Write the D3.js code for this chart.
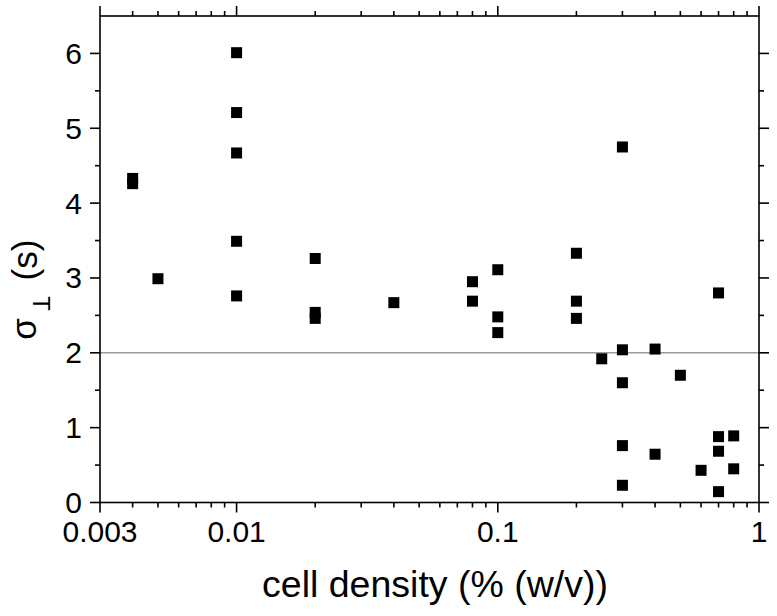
<!DOCTYPE html>
<html>
<head>
<meta charset="utf-8">
<script src="https://cdn.jsdelivr.net/npm/d3@7"></script>
<style>
  html, body { margin: 0; padding: 0; background: #fff; }
  svg { display: block; font-family: "Liberation Sans", Arial, sans-serif; }
</style>
</head>
<body>
<svg id="chart" width="777" height="616"></svg>
<script>
// ---- data ----
const density = [0.004, 0.004, 0.005,
  0.01, 0.01, 0.01, 0.01, 0.01,
  0.02, 0.02, 0.02,
  0.04,
  0.08, 0.08,
  0.1, 0.1, 0.1,
  0.2, 0.2, 0.2,
  0.25,
  0.3, 0.3, 0.3, 0.3, 0.3,
  0.4, 0.4,
  0.5,
  0.6,
  0.7, 0.7, 0.7, 0.7,
  0.8, 0.8];
const sigmaT = [4.33, 4.26, 2.99,
  6.01, 5.21, 4.67, 3.49, 2.76,
  3.26, 2.54, 2.46,
  2.67,
  2.95, 2.69,
  3.11, 2.48, 2.27,
  3.33, 2.69, 2.46,
  1.92,
  4.75, 2.04, 1.60, 0.76, 0.23,
  2.05, 0.645,
  1.70,
  0.43,
  2.80, 0.88, 0.685, 0.145,
  0.89, 0.45];
const xTickLabels = ["0.003", "0.01", "0.1", "1"];
const xTickValues = [0.003, 0.01, 0.1, 1];
const yTickValues = [0, 1, 2, 3, 4, 5, 6];
const refLine = 2;

// ---- layout ----
const L = 100, R = 759, T = 16, B = 502.5;
const svg = d3.select("#chart");
const x = d3.scaleLog().domain([0.003, 1]).range([L, R]);
const y = d3.scaleLinear().domain([0, 6.5]).range([B, T]);

const minorX = [];
[0.001, 0.01, 0.1].forEach(d => { for (let k = 1; k <= 9; k++) { const v = d * k; if (v > 0.003 + 1e-9 && v < 1 - 1e-9 && !xTickValues.some(t => Math.abs(t - v) < 1e-9)) minorX.push(v); } });
const minorY = d3.range(0.5, 6.5, 1);

const stroke = "#000", sw = 1.6;

// reference line
svg.append("line")
  .attr("x1", L).attr("x2", R)
  .attr("y1", y(refLine)).attr("y2", y(refLine))
  .attr("stroke", "#9a9a9a").attr("stroke-width", 1.4);

// frame
svg.append("rect").attr("x", L).attr("y", T).attr("width", R - L).attr("height", B - T)
  .attr("fill", "none").attr("stroke", stroke).attr("stroke-width", sw);

function ticks(g, vals, len, pos) {
  g.selectAll(null).data(vals).enter().append("line")
    .attr("stroke", stroke).attr("stroke-width", sw)
    .each(function(v) {
      const s = d3.select(this);
      if (pos === "bottom") s.attr("x1", x(v)).attr("x2", x(v)).attr("y1", B).attr("y2", B + len);
      if (pos === "top") s.attr("x1", x(v)).attr("x2", x(v)).attr("y1", T).attr("y2", T - len);
      if (pos === "left") s.attr("y1", y(v)).attr("y2", y(v)).attr("x1", L).attr("x2", L - len);
      if (pos === "right") s.attr("y1", y(v)).attr("y2", y(v)).attr("x1", R).attr("x2", R + len);
    });
}
const tg = svg.append("g");
ticks(tg, xTickValues, 10, "bottom"); ticks(tg, minorX, 5, "bottom");
ticks(tg, xTickValues, 10, "top"); ticks(tg, minorX, 5, "top");
ticks(tg, yTickValues, 10, "left"); ticks(tg, minorY, 5, "left");
ticks(tg, yTickValues, 10, "right"); ticks(tg, minorY, 5, "right");

// tick labels
svg.append("g").selectAll("text").data(xTickValues).enter().append("text")
  .attr("x", d => x(d)).attr("y", 542)
  .attr("text-anchor", "middle").attr("font-size", 30)
  .text((d, i) => xTickLabels[i]);
svg.append("g").selectAll("text").data(yTickValues).enter().append("text")
  .attr("x", 82).attr("y", d => y(d)).attr("dy", "0.35em")
  .attr("text-anchor", "end").attr("font-size", 30)
  .text(d => d);

// axis titles
svg.append("text").attr("x", 435).attr("y", 597)
  .attr("text-anchor", "middle").attr("font-size", 37.5)
  .text("cell density (% (w/v))");

svg.append("text")
  .attr("transform", `translate(36, 329) rotate(-90)`)
  .attr("text-anchor", "middle").attr("font-size", 35)
  .text("σ");
svg.append("text")
  .attr("transform", `translate(33, 303.5) rotate(90)`)
  .attr("text-anchor", "middle").attr("font-size", 24)
  .text("T");
svg.append("text")
  .attr("transform", `translate(37, 260) rotate(-90)`)
  .attr("text-anchor", "middle").attr("font-size", 35)
  .text("(s)");

// points
const sz = 11;
svg.append("g").selectAll("rect").data(density.map((d, i) => [d, sigmaT[i]])).enter().append("rect")
  .attr("x", d => x(d[0]) - sz / 2).attr("y", d => y(d[1]) - sz / 2)
  .attr("width", sz).attr("height", sz).attr("fill", "#000");
</script>
</body>
</html>
